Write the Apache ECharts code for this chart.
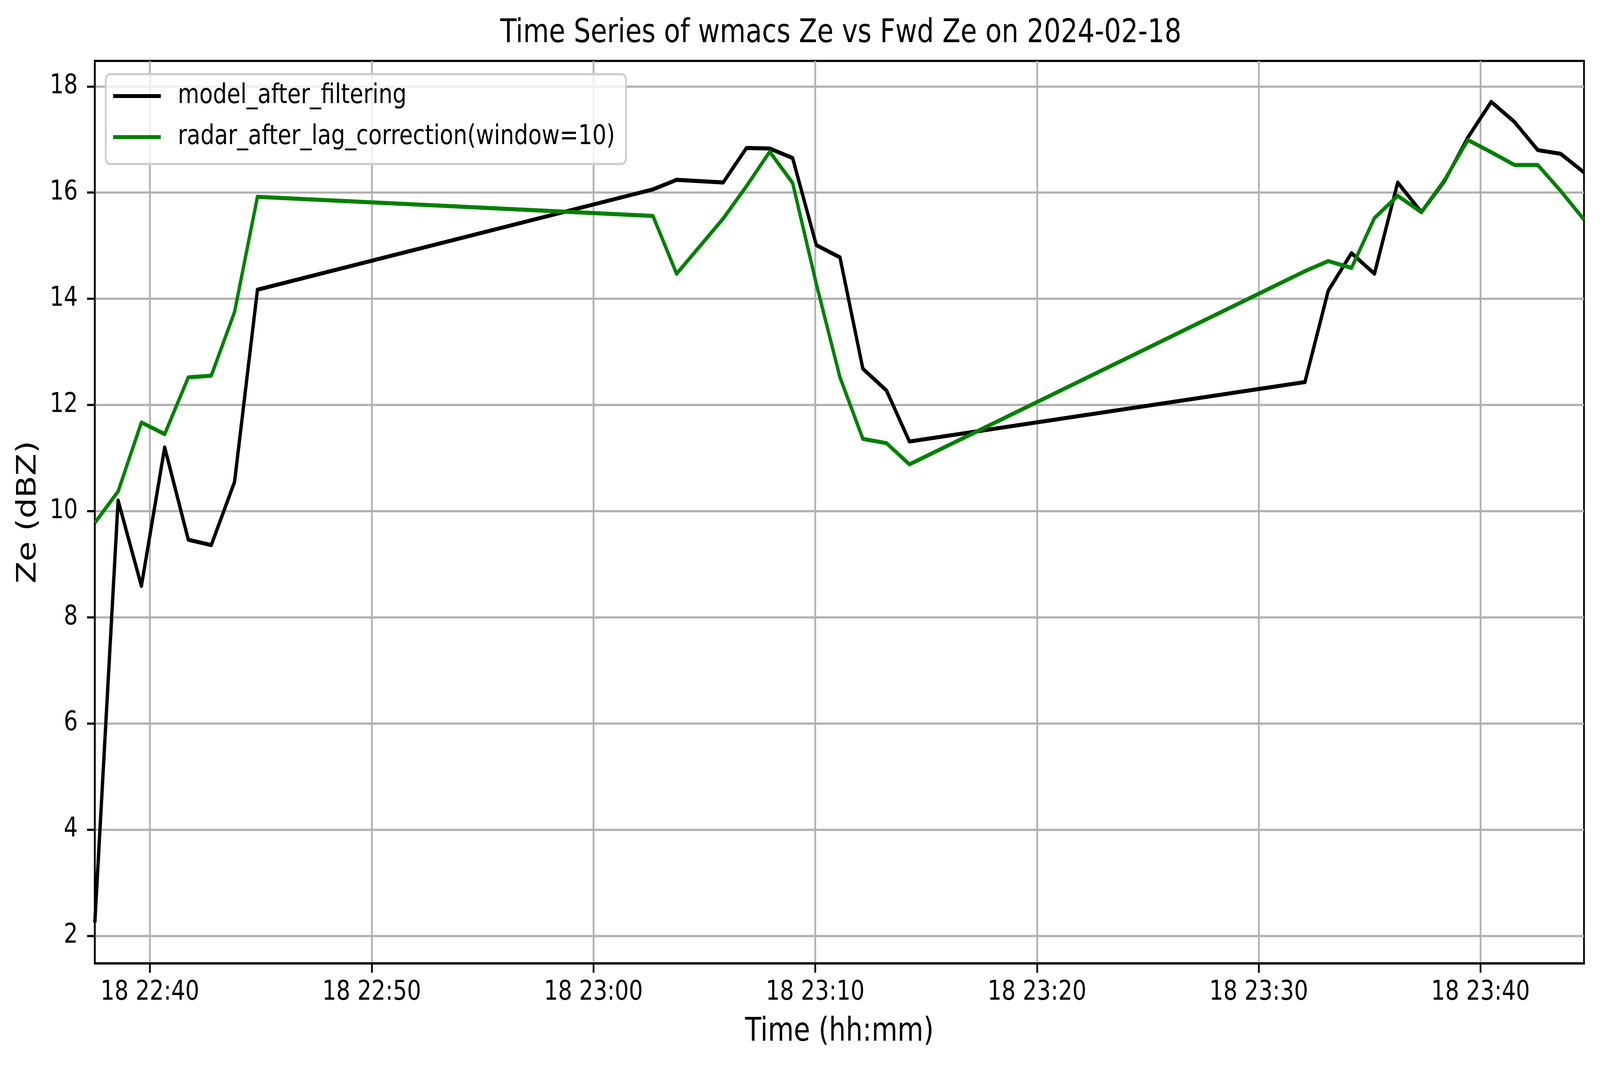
<!DOCTYPE html>
<html lang="en">
<head>
  <meta charset="UTF-8">
  <title>Time Series of wmacs Ze vs Fwd Ze</title>
  <script src="https://cdn.jsdelivr.net/npm/echarts@6/dist/echarts.min.js"></script>
  <style>
    html, body {
      margin: 0;
      padding: 0;
      overflow: hidden;
      background: #ffffff;
    }

    .box {
      width: 4995px;
      height: 2740px;
      transform-origin: 0 0;
    }
  </style>
</head>
<body>

<div class="box"></div>

<script>
  // sample times on 18 Feb 2024
  var times = [
    '22:37:31', '22:38:34', '22:39:37', '22:40:40', '22:41:44', '22:42:46', '22:43:49', '22:44:51',
    '23:02:41', '23:03:45', '23:05:51', '23:06:54', '23:07:57', '23:08:59', '23:10:03', '23:11:07',
    '23:12:09', '23:13:13', '23:14:15',
    '23:32:05', '23:33:08', '23:34:11', '23:35:13', '23:36:16', '23:37:20', '23:38:23', '23:39:26',
    '23:40:29', '23:41:32', '23:42:35', '23:43:37', '23:44:40'
  ];

  var modelZe = [
    2.25, 10.20, 8.59, 11.20, 9.46, 9.36, 10.55, 14.17,
    16.06, 16.24, 16.19, 16.84, 16.83, 16.65, 15.01, 14.78, 12.68, 12.27, 11.31,
    12.43, 14.15, 14.86, 14.47, 16.19, 15.63, 16.22, 17.04, 17.71, 17.33, 16.80, 16.73, 16.38
  ];

  var radarZe = [
    9.78, 10.37, 11.67, 11.45, 12.52, 12.55, 13.75, 15.92,
    15.56, 14.47, 15.51, 16.12, 16.77, 16.18, 14.28, 12.52, 11.36, 11.28, 10.88,
    14.52, 14.71, 14.58, 15.52, 15.94, 15.63, 16.24, 16.99, 16.76, 16.52, 16.52, 16.03, 15.49
  ];

  var seriesNames = ['model_after_filtering', 'radar_after_lag_correction(window=10)'];

  var xTicks = ['22:40', '22:50', '23:00', '23:10', '23:20', '23:30', '23:40'];
  var yTicks = [2, 4, 6, 8, 10, 12, 14, 16, 18];
  var yMin = 1.48;
  var yMax = 18.48;
  var dayLabel = '18';

  var FONT = 'DejaVu Sans';
  var LW = 5.5;   // spine / grid width
  var SW = 10.4;  // series line width

  // "hh:mm[:ss]" -> minutes since midnight
  function toMin(s) {
    var p = s.split(':');
    return (+p[0]) * 60 + (+p[1]) + (p.length > 2 ? (+p[2]) / 60 : 0);
  }

  function pad2(n) {
    return (n < 10 ? '0' : '') + n;
  }

  function fmtMin(v) {
    var m = Math.round(v);
    return dayLabel + ' ' + pad2(Math.floor(m / 60)) + ':' + pad2(m % 60);
  }

  function pairs(vals) {
    return times.map(function (t, i) {
      return [toMin(t), vals[i]];
    });
  }

  var xTickVals = xTicks.map(toMin);

  var box = document.getElementsByClassName('box')[0];

  // the window may be narrower than the 4995x2740 figure: fit the figure to it
  var sx = Math.min(1, window.innerWidth / 4995);
  var sy = Math.min(1, window.innerHeight / 2740);
  box.style.transform = 'scale(' + sx + ',' + sy + ')';

  var chart = echarts.init(box, null, {renderer: 'canvas'});

  var option = {
    backgroundColor: '#ffffff',
    animation: false,
    title: {
      text: 'Time Series of wmacs Ze vs Fwd Ze on 2024-02-18',
      left: 2620,
      top: 40,
      textAlign: 'center',
      textStyle: {
        fontFamily: FONT,
        fontSize: 83,
        fontWeight: 'normal',
        color: '#000'
      }
    },
    legend: {
      data: seriesNames.map(function (n) { return {name: n, icon: 'rect'}; }),
      orient: 'vertical',
      left: 330,
      top: 190,
      itemWidth: 149,
      itemHeight: 10,
      itemGap: 25,
      padding: [16, 34, 29, 23],
      backgroundColor: 'rgba(255,255,255,0.8)',
      borderColor: '#cccccc',
      borderWidth: LW,
      borderRadius: 14,
      textStyle: {
        fontFamily: FONT,
        fontSize: 69,
        lineHeight: 80,
        color: '#000',
        padding: [0, 0, 0, 48]
      }
    },
    grid: {
      left: 296,
      right: 50,
      top: 156,
      bottom: 273,
      show: true,
      borderColor: '#000',
      borderWidth: LW,
      backgroundColor: 'transparent',
      containLabel: false,
      outerBoundsMode: 'none'
    },
    xAxis: {
      type: 'value',
      min: toMin(times[0]),
      max: toMin(times[times.length - 1]),
      splitNumber: 7,
      name: 'Time (hh:mm)',
      nameLocation: 'middle',
      nameGap: 135,
      nameTextStyle: {fontFamily: FONT, fontSize: 83, color: '#000'},
      axisLine: {show: true, onZero: false, lineStyle: {color: '#000', width: LW}},
      axisTick: {show: true, length: 24, inside: false, customValues: xTickVals,
        lineStyle: {color: '#000', width: LW}},
      axisLabel: {
        customValues: xTickVals,
        margin: 41,
        fontFamily: FONT,
        fontSize: 69,
        color: '#000',
        formatter: fmtMin
      },
      splitLine: {show: true, lineStyle: {color: '#b0b0b0', width: LW}}
    },
    yAxis: {
      type: 'value',
      min: yMin,
      max: yMax,
      splitNumber: 8,
      name: 'Ze (dBZ)',
      nameLocation: 'middle',
      nameGap: 165,
      nameRotate: 90,
      nameTextStyle: {fontFamily: FONT, fontSize: 83, color: '#000'},
      axisLine: {show: true, onZero: false, lineStyle: {color: '#000', width: LW}},
      axisTick: {show: true, length: 24, inside: false, customValues: yTicks,
        lineStyle: {color: '#000', width: LW}},
      axisLabel: {
        customValues: yTicks,
        margin: 53,
        fontFamily: FONT,
        fontSize: 69,
        color: '#000'
      },
      splitLine: {show: true, lineStyle: {color: '#b0b0b0', width: LW}}
    },
    series: [
      {
        name: seriesNames[0],
        type: 'line',
        data: pairs(modelZe),
        showSymbol: false,
        symbol: 'none',
        color: '#000000',
        lineStyle: {color: '#000000', width: SW, join: 'round'},
        z: 3
      },
      {
        name: seriesNames[1],
        type: 'line',
        data: pairs(radarZe),
        showSymbol: false,
        symbol: 'none',
        color: '#008000',
        lineStyle: {color: '#008000', width: SW, join: 'round'},
        z: 4
      }
    ]
  };

  chart.setOption(option);
</script>
</body>
</html>
